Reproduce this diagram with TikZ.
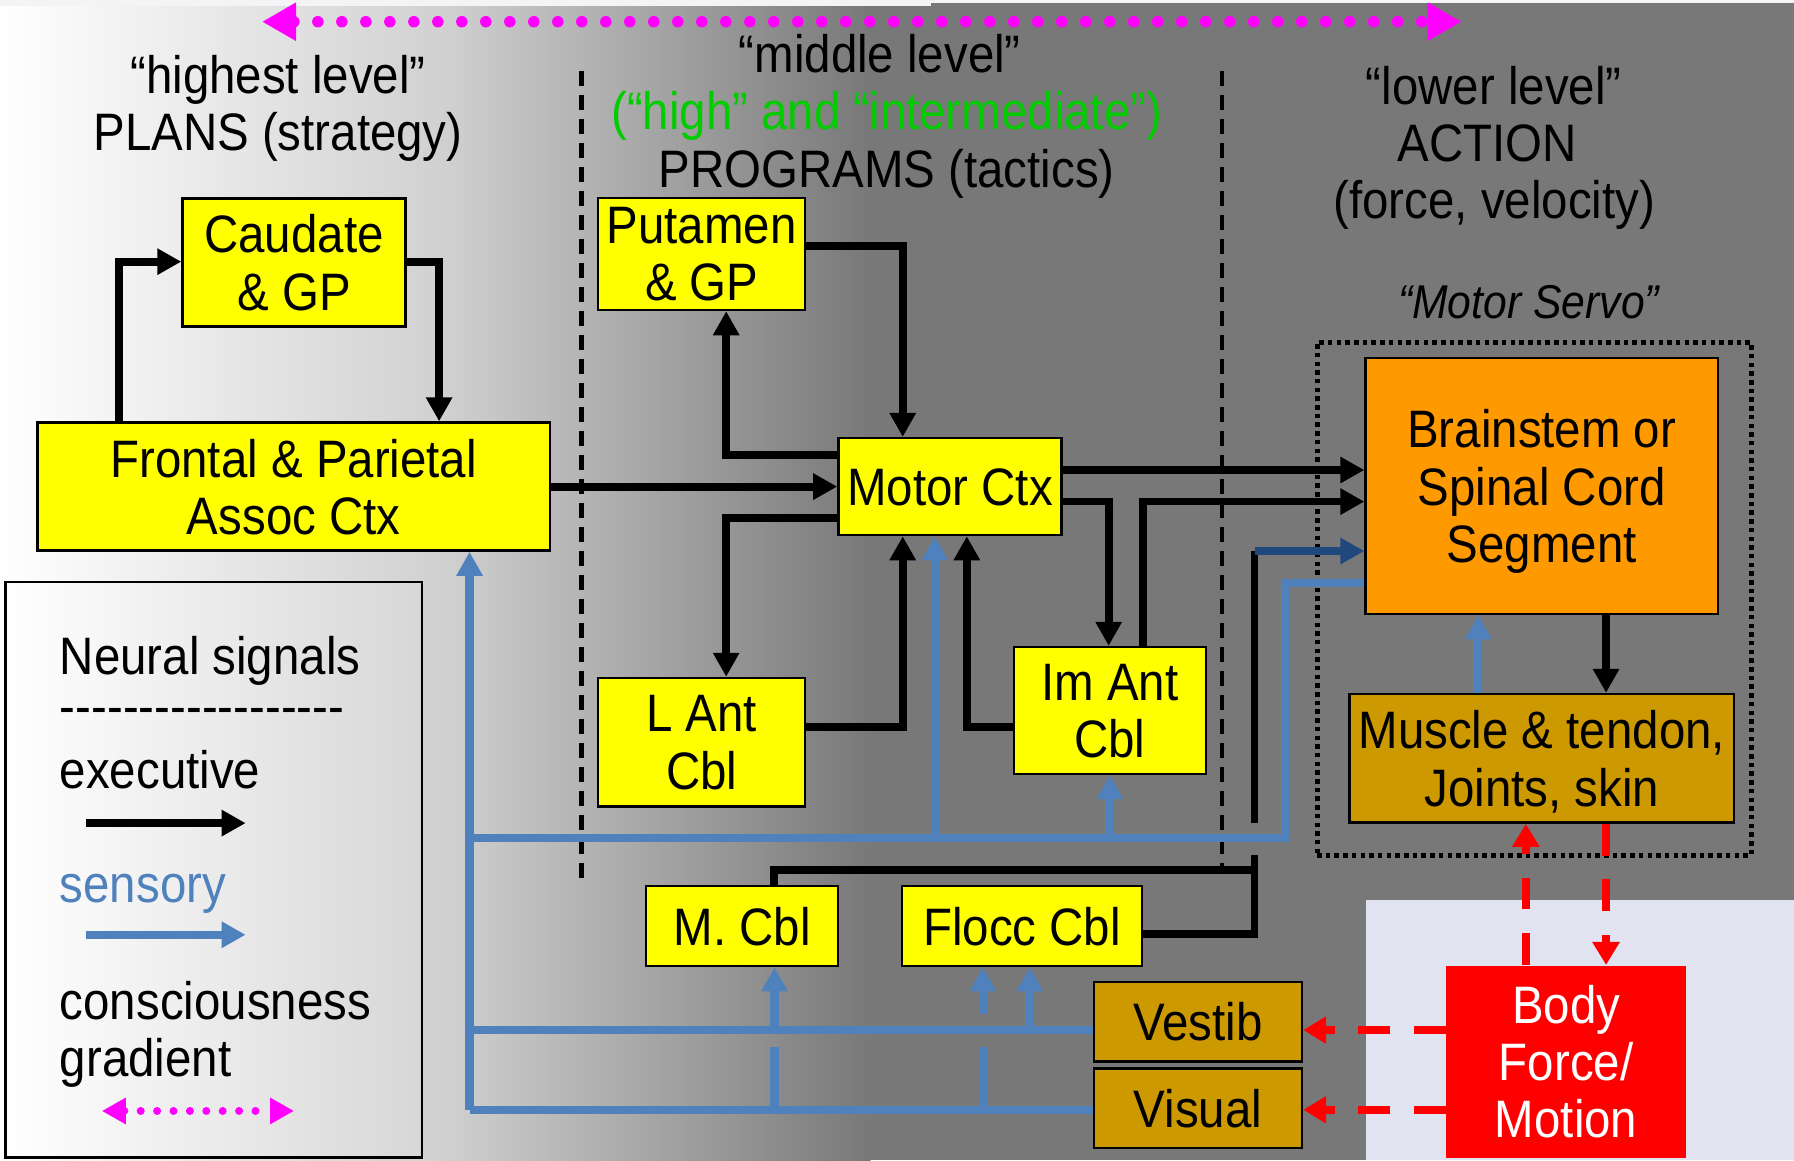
\documentclass[tikz,border=0pt]{standalone}
\usepackage{fontspec}
\setmainfont[FakeStretch=0.9]{Liberation Sans}
\usetikzlibrary{arrows.meta}
\definecolor{bgdark}{HTML}{787878}
\definecolor{bgmid}{HTML}{D0D0D0}
\definecolor{ltstrip}{HTML}{F4F4F6}
\definecolor{lavender}{HTML}{E1E4F0}
\definecolor{boxyellow}{HTML}{FFFF00}
\definecolor{boxorange}{HTML}{FF9900}
\definecolor{boxgold}{HTML}{CC9900}
\definecolor{sensblue}{HTML}{4F81BD}
\definecolor{darkblue}{HTML}{1F497D}
\definecolor{hlgreen}{HTML}{00CC00}
\definecolor{gradpink}{HTML}{FF00FF}

\begin{document}
\begin{tikzpicture}[x=0.011441cm,y=-0.011441cm,font=\fontsize{15}{16.3}\selectfont,
  box/.style={draw=black,line width=0.7pt,inner sep=0pt,align=center,text depth=0pt},
  ybox/.style={box,fill=boxyellow},
  obox/.style={box,fill=boxorange},
  gbox/.style={box,fill=boxgold},
  rbox/.style={inner sep=0pt,align=center,fill=red,text=white},
  exe/.style={line width=0.078cm,-{Triangle[length=0.24cm,width=0.25cm]}},
  sens/.style={exe,color=sensblue,line width=0.082cm},
  dsens/.style={exe,color=darkblue,line width=0.082cm},
  motion/.style={line width=0.08cm,red,dash pattern=on 0.32cm off 0.235cm,-{Triangle[length=0.23cm,width=0.26cm]}},
  grad/.style={gradpink,line cap=round,{Triangle[length=0.34cm,width=0.36cm]}-{Triangle[length=0.34cm,width=0.36cm]}},
  divider/.style={line width=1.3pt,dash pattern=on 0.15cm off 0.09cm},
  servo/.style={draw=black,line width=0.05cm,dash pattern=on 0.045cm off 0.042cm,inner sep=0pt},
  head/.style={anchor=base,align=center},
  key/.style={anchor=base west,inner sep=0pt}]
\useasboundingbox (0,0) rectangle (1568,1014);

% background: consciousness gradient
\fill[bgdark] (0,0) rectangle (1568,1014);
\shade[left color=white,right color=bgmid] (0,0) rectangle (391,1014);
\shade[left color=bgmid,right color=bgdark] (390,0) rectangle (761,1014);
\fill[ltstrip] (0,0) rectangle (814,5);
\fill[ltstrip] (814,0) rectangle (1568,3);
\fill[lavender] (1194,787) rectangle (1568,1014);

\draw[divider] (508.3,62) -- (508.3,773);
\draw[divider] (1068,62) -- (1068,759);
\draw[grad,line width=0.115cm,dash pattern=on 0pt off 0.24cm] (229,19) -- (1277.5,19);

\node[head] (hl1) at (243,82) {“highest level”};
\node[head] (hl2) at (243,131.5) {PLANS (strategy)};
\node[head] (ml1) at (769,63.5) {“middle level”};
\node[head,text=hlgreen] (ml2) at (775,113.5) {(“high” and “intermediate”)};
\node[head] (ml3) at (775,163.5) {PROGRAMS (tactics)};
\node[head] (ll1) at (1305.5,91.5) {“lower level”};
\node[head] (ll2) at (1300,141.5) {ACTION};
\node[head] (ll3) at (1306,191) {(force, velocity)};
\node[head,font=\fontsize{13.5}{15}\selectfont\itshape] (ms) at (1336,278.5) {“Motor Servo”};

\node[servo,minimum width=4.342cm,minimum height=5.130cm] (srv) at (1340.8,523.2) {};

\node[ybox,minimum width=2.231cm,minimum height=1.281cm] (caud) at (257,229.3) {Caudate\\\& GP};
\node[ybox,minimum width=5.126cm,minimum height=1.281cm] (fpa) at (256.7,425.3) {Frontal \& Parietal\\Assoc Ctx};
\node[ybox,minimum width=2.071cm,minimum height=1.121cm] (put) at (613.3,222) {Putamen\\\& GP};
\node[ybox,minimum width=2.231cm,minimum height=0.969cm] (mctx) at (830.3,425.3) {Motor Ctx};
\node[ybox,minimum width=2.071cm,minimum height=1.287cm] (lant) at (613.3,648.8) {L Ant\\Cbl};
\node[ybox,minimum width=1.922cm,minimum height=1.269cm] (iant) at (970,621) {Im Ant\\Cbl};
\node[obox,minimum width=3.524cm,minimum height=2.559cm] (bsc) at (1347.5,424.9) {Brainstem or\\Spinal Cord\\Segment};
\node[gbox,minimum width=3.844cm,minimum height=1.286cm] (mus) at (1347.6,662.8) {Muscle \& tendon,\\Joints, skin};
\node[ybox,minimum width=1.922cm,minimum height=0.8cm] (mcbl) at (648.6,809.4) {M. Cbl};
\node[ybox,minimum width=2.398cm,minimum height=0.8cm] (flocc) at (893.2,809.4) {Flocc Cbl};
\node[gbox,minimum width=2.082cm,minimum height=0.8cm] (vest) at (1047,893) {Vestib};
\node[gbox,minimum width=2.082cm,minimum height=0.795cm] (vis) at (1047,968.8) {Visual};
\node[rbox,minimum width=2.398cm,minimum height=1.922cm] (body) at (1368.8,928) {Body\\Force/\\Motion};

% bends
\coordinate (c1) at (634.7,397.4); \coordinate (c2) at (789,215);
\coordinate (c3) at (634.7,452.8); \coordinate (c4) at (789,635.5);
\coordinate (c5) at (845,635.5);   \coordinate (c6) at (969,438.4);
\coordinate (c7) at (999,438.4);   \coordinate (c8) at (103.9,228.7);
\coordinate (c9) at (383.8,228.7); \coordinate (c10) at (1050,410.8);
\coordinate (c11) at (676.6,760.4); \coordinate (c12) at (1096.5,760.4);
\coordinate (c13) at (1096.5,816);  \coordinate (c14) at (1096.5,747);
\coordinate (c15) at (1096.5,719);  \coordinate (c16) at (1096.5,481.6);
\coordinate (c17) at (1403.7,0);
\coordinate (s1) at (1124,509.4); \coordinate (s2) at (1124,732.6);
\coordinate (s3) at (410.4,732.6); \coordinate (s4) at (410.4,970);
\coordinate (s5) at (817,732.6);  \coordinate (s6) at (970,732.6);
\coordinate (s7) at (410.4,900.3); \coordinate (s8) at (677,900.3);
\coordinate (s9) at (900,900.3);   \coordinate (s10) at (677,970);
\coordinate (s11) at (859,970);    \coordinate (s12) at (859,886);
\coordinate (s13) at (1292,0);     \coordinate (r1) at (1333.6,0);

% sensory
\draw[sens,-] (bsc.west |- s1) -- (s1) -- (s2) -- (s3);
\draw[sens,-] (vest.west |- s7) -- (s7);
\draw[sens,-] (vis.west |- s4) -- (s4);
\draw[sens] (s4) -- (s4 |- fpa.south);
\draw[sens] (s5) -- (s5 |- mctx.south);
\draw[sens] (s6) -- (s6 |- iant.south);
\draw[sens] (s8) -- (s8 |- mcbl.south);
\draw[sens] (s9) -- (s9 |- flocc.south);
\draw[sens,-] (s10) -- ++(0,-55);
\draw[sens,-] (s11) -- ++(0,-55);
\draw[sens] (s12) -- (s12 |- flocc.south);
\draw[sens] (mus.north -| s13) -- (bsc.south -| s13);

% executive
\draw[exe] (fpa.north -| c8) -- (c8) -- (caud.west |- c8);
\draw[exe] (caud.east |- c9) -- (c9) -- (fpa.north -| c9);
\draw[exe] (fpa.east |- mctx.west) -- (mctx.west);
\draw[exe] (mctx.west |- c1) -- (c1) -- (put.south -| c1);
\draw[exe] (put.east |- c2) -- (c2) -- (mctx.north -| c2);
\draw[exe] (mctx.west |- c3) -- (c3) -- (lant.north -| c3);
\draw[exe] (lant.east |- c4) -- (c4) -- (mctx.south -| c4);
\draw[exe] (iant.west |- c5) -- (c5) -- (mctx.south -| c5);
\draw[exe] (mctx.east |- c6) -- (c6) -- (iant.north -| c6);
\draw[exe] (iant.north -| c7) -- (c7) -- (bsc.west |- c7);
\draw[exe] (mctx.east |- c10) -- (bsc.west |- c10);
\draw[exe,-] (mcbl.north -| c11) -- (c11) -- (c12);
\draw[exe,-] (flocc.east |- c13) -- (c13) -- (c14);
\draw[exe,-] (c15) -- (c16);
\draw[dsens] (c16) -- (bsc.west |- c16);
\draw[exe] (bsc.south -| c17) -- (mus.north -| c17);

% body feedback
\draw[motion] (body.west |- s7) -- (vest.east |- s7);
\draw[motion] (body.west |- s4) -- (vis.east |- s4);
\draw[motion] (body.north -| r1) -- (mus.south -| r1);
\draw[motion] (mus.south -| c17) -- (body.north -| c17);

% legend
\shade[left color=white,right color=bgmid!85,draw=black,line width=0.8pt] (5,508.7) rectangle (368.8,1012);
\node[key] (lg1) at (51.7,589.5) {Neural signals};
\node[key] (lg2) at (51.7,633) {-{}-{}-{}-{}-{}-{}-{}-{}-{}-{}-{}-{}-{}-{}-{}-{}-{}-};
\node[key] (lg3) at (51.7,689) {executive};
\node[key,text=sensblue] (lg4) at (51.7,789) {sensory};
\node[key] (lg5) at (51.7,891) {consciousness};
\node[key] (lg6) at (51.7,941) {gradient};
\coordinate (k1) at (75.3,719.4); \coordinate (k2) at (214.7,719.4);
\coordinate (k3) at (75.3,817);   \coordinate (k4) at (214.7,817);
\coordinate (k5) at (89,971);     \coordinate (k6) at (257,971);
\draw[exe] (k1) -- (k2);
\draw[sens] (k3) -- (k4);
\draw[gradpink,line width=0.08cm,line cap=round,dash pattern=on 0pt off 0.164cm,
  {Triangle[length=0.24cm,width=0.25cm]}-{Triangle[length=0.24cm,width=0.25cm]}] (k5) -- (k6);
\end{tikzpicture}
\end{document}
